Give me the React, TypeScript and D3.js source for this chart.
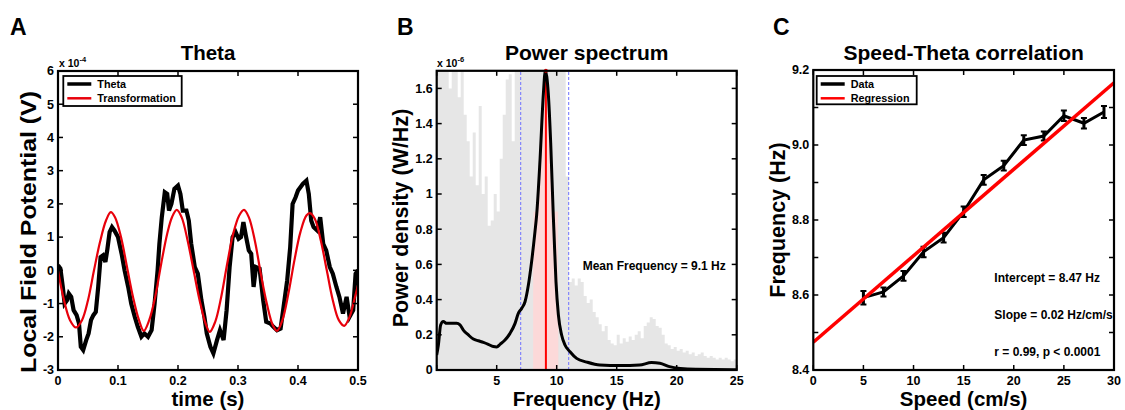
import React from "react";
import * as d3 from "d3";

const FONT = "'Liberation Sans', Arial, Helvetica, sans-serif";

// ---- panel A: theta trace + sinusoidal transformation
const thetaTime = [0, 0.004, 0.008, 0.011, 0.015, 0.018, 0.022, 0.026, 0.031, 0.035, 0.038, 0.042, 0.047, 0.051, 0.055, 0.059, 0.063, 0.067, 0.071, 0.075, 0.079, 0.082, 0.086, 0.09, 0.094, 0.1, 0.106, 0.111, 0.117, 0.122, 0.128, 0.133, 0.139, 0.144, 0.15, 0.156, 0.161, 0.166, 0.169, 0.173, 0.178, 0.182, 0.185, 0.189, 0.194, 0.2, 0.204, 0.208, 0.214, 0.218, 0.222, 0.228, 0.233, 0.239, 0.244, 0.248, 0.254, 0.259, 0.265, 0.27, 0.276, 0.281, 0.286, 0.291, 0.296, 0.301, 0.305, 0.309, 0.313, 0.318, 0.322, 0.326, 0.33, 0.336, 0.342, 0.347, 0.354, 0.359, 0.365, 0.371, 0.376, 0.382, 0.387, 0.391, 0.396, 0.4, 0.404, 0.408, 0.414, 0.418, 0.422, 0.426, 0.432, 0.437, 0.442, 0.447, 0.453, 0.458, 0.464, 0.469, 0.475, 0.481, 0.486, 0.492, 0.496, 0.5];
const thetaLfp = [0.15, 0.05, -0.5, -1.0, -0.9, -0.7, -0.8, -1.2, -1.35, -1.6, -2.3, -2.4, -2.1, -1.9, -1.5, -1.35, -1.25, -0.5, 0.4, 0.45, 0.25, 0.6, 1.15, 1.3, 1.2, 1.0, 0.5, 0.0, -0.5, -1.0, -1.4, -1.7, -2.0, -1.9, -2.0, -1.8, -1.0, 0.0, 0.8, 1.6, 2.35, 2.3, 1.8, 2.0, 2.45, 2.55, 2.3, 1.8, 1.8, 1.5, 0.8, 0.1, -0.1, -0.9, -1.4, -1.9, -2.3, -2.5, -2.1, -1.8, -2.1, -1.2, 0.1, 1.0, 1.15, 0.95, 1.0, 1.45, 1.05, 0.6, 0.5, -0.5, 0.1, 0.05, -0.9, -1.55, -1.6, -1.7, -1.8, -1.75, -1.1, -0.3, 0.7, 2.0, 2.2, 2.4, 2.5, 2.6, 2.7, 2.3, 1.5, 1.3, 1.2, 1.6, 0.8, 0.6, 0.1, -0.1, -0.5, -0.8, -1.3, -0.8, -1.4, -1.2, -0.1, 0.0];
const transTime = [0, 0.01, 0.02, 0.03, 0.04, 0.05, 0.06, 0.07, 0.08, 0.088, 0.095, 0.105, 0.115, 0.125, 0.135, 0.143, 0.152, 0.162, 0.172, 0.182, 0.19, 0.198, 0.206, 0.216, 0.226, 0.236, 0.246, 0.253, 0.262, 0.272, 0.282, 0.292, 0.302, 0.31, 0.318, 0.328, 0.338, 0.348, 0.358, 0.365, 0.374, 0.384, 0.394, 0.404, 0.414, 0.42, 0.428, 0.438, 0.448, 0.458, 0.468, 0.477, 0.486, 0.495, 0.5];
const transLfp = [0.0, -0.9, -1.5, -1.72, -1.5, -0.9, 0.0, 0.85, 1.5, 1.75, 1.6, 1.0, 0.1, -0.8, -1.5, -1.82, -1.5, -0.8, 0.2, 1.1, 1.6, 1.82, 1.6, 0.9, 0.0, -0.9, -1.6, -1.85, -1.55, -0.8, 0.2, 1.1, 1.65, 1.82, 1.6, 0.9, -0.1, -1.0, -1.65, -1.82, -1.5, -0.7, 0.3, 1.15, 1.65, 1.72, 1.55, 0.9, 0.0, -0.9, -1.5, -1.67, -1.4, -0.8, -0.45];
const aXTicks = [0, 0.1, 0.2, 0.3, 0.4, 0.5];
const aYTicks = [-3, -2, -1, 0, 1, 2, 3, 4, 5, 6];

// ---- panel B: power spectrum (x 1e-6 W/Hz)
const binStart = d3.range(0, 25, 0.25);
const binPower = [
  2.0, 2.0, 2.0, 1.9, 1.6, 1.8, 1.75, 1.55, 1.7, 1.45, 1.3, 1.1,
  1.35, 1.05, 1.5, 1.0, 1.1, 0.82, 0.85, 1.0, 0.9, 1.2, 1.45, 1.65,
  1.68, 1.3, 1.8, 1.75, 2.0, 2.0, 2.0, 2.0, 2.0, 2.0, 2.0, 2.0,
  2.0, 2.0, 2.0, 2.0, 2.0, 1.9, 1.75, 1.1, 0.5, 0.52, 0.48, 0.52,
  0.5, 0.42, 0.38, 0.4, 0.33, 0.3, 0.26, 0.22, 0.25, 0.17, 0.15, 0.14,
  0.2, 0.15, 0.18, 0.16, 0.19, 0.17, 0.2, 0.22, 0.18, 0.25, 0.27, 0.3,
  0.29, 0.25, 0.24, 0.2, 0.15, 0.14, 0.12, 0.13, 0.11, 0.12, 0.1, 0.11,
  0.09, 0.1, 0.08, 0.09, 0.1, 0.08, 0.07, 0.08, 0.07, 0.06, 0.07, 0.06,
  0.07, 0.06, 0.05, 0.06,
];
const specFreq = [0, 0.14, 0.33, 0.55, 0.83, 1.11, 1.66, 1.94, 2.22, 2.64, 3.05, 3.47, 3.89, 4.3, 4.72, 5.0, 5.28, 5.69, 6.11, 6.53, 6.8, 7.08, 7.36, 7.64, 7.91, 8.19, 8.33, 8.61, 8.89, 9.05, 9.3, 9.5, 9.72, 9.77, 9.94, 10.14, 10.41, 10.69, 11.11, 11.66, 12.5, 13.6, 15.3, 16.9, 17.9, 18.6, 19.4, 20.3, 21.6, 25];
const specPower = [0.085, 0.142, 0.256, 0.275, 0.265, 0.265, 0.265, 0.256, 0.227, 0.199, 0.176, 0.166, 0.157, 0.146, 0.133, 0.131, 0.146, 0.17, 0.208, 0.265, 0.322, 0.35, 0.388, 0.483, 0.616, 0.786, 0.881, 1.193, 1.57, 1.7, 1.57, 1.29, 0.87, 0.786, 0.502, 0.313, 0.199, 0.142, 0.104, 0.066, 0.045, 0.028, 0.025, 0.028, 0.042, 0.038, 0.019, 0.009, 0.004, 0.002];
const thetaBand = [7, 11];
const peakBand = [8.05, 10.13];
const peakBandLevel = 0.9;
const meanFreq = 9.1;
const bXTicks = [0, 5, 10, 15, 20, 25];
const bXLabels = ["", "5", "10", "15", "20", "25"];
const bYTicks = [0, 0.2, 0.4, 0.6, 0.8, 1.0, 1.2, 1.4, 1.6];
const bYLabels = ["0", "0.2", "0.4", "0.6", "0.8", "1", "1.2", "1.4", "1.6"];

// ---- panel C: speed vs theta frequency
const speed = [5, 7, 9, 11, 13, 15, 17, 19, 21, 23, 25, 27, 29];
const thetaFreq = [8.593, 8.608, 8.651, 8.715, 8.753, 8.822, 8.907, 8.945, 9.013, 9.024, 9.078, 9.058, 9.088];
const freqErr = [0.018, 0.012, 0.013, 0.014, 0.013, 0.014, 0.013, 0.013, 0.013, 0.012, 0.014, 0.014, 0.016];
const regSpeed = [0, 30];
const regFreq = [8.474, 9.166];
const cXTicks = [0, 5, 10, 15, 20, 25, 30];
const cYTicks = [8.4, 8.5, 8.6, 8.7, 8.8, 8.9, 9.0, 9.1, 9.2];
const cYLabels = ["8.4", "", "8.6", "", "8.8", "", "9.0", "", "9.2"];

type Lin = d3.ScaleLinear<number, number>;

function Frame({ x, y, xTicks, xLabels, yTicks, yLabels }: {
  x: Lin; y: Lin; xTicks: number[]; xLabels: string[]; yTicks: number[]; yLabels: string[];
}) {
  const [x0, x1] = x.range();
  const [y0, y1] = y.range();
  const tl = 5;
  return (
    <g>
      {xTicks.map((t, i) => (
        <g key={"x" + i}>
          <line x1={x(t)} x2={x(t)} y1={y0} y2={y0 - tl} stroke="#000" strokeWidth={1.5} />
          <line x1={x(t)} x2={x(t)} y1={y1} y2={y1 + tl} stroke="#000" strokeWidth={1.5} />
          <text x={x(t)} y={y0 + 14.5} textAnchor="middle" fontSize={12.5} fontWeight="bold">{xLabels[i]}</text>
        </g>
      ))}
      {yTicks.map((t, i) => (
        <g key={"y" + i}>
          <line x1={x0} x2={x0 + tl} y1={y(t)} y2={y(t)} stroke="#000" strokeWidth={1.5} />
          <line x1={x1} x2={x1 - tl} y1={y(t)} y2={y(t)} stroke="#000" strokeWidth={1.5} />
          <text x={x0 - 4} y={y(t)} dy="0.35em" textAnchor="end" fontSize={12.5} fontWeight="bold">{yLabels[i]}</text>
        </g>
      ))}
      <rect x={x0} y={y1} width={x1 - x0} height={y0 - y1} fill="none" stroke="#000" strokeWidth={2.2} />
    </g>
  );
}

function Legend({ x, y, w, h, items }: { x: number; y: number; w: number; h: number; items: [string, string][] }) {
  return (
    <g>
      <rect x={x} y={y} width={w} height={h} fill="#fff" stroke="#000" strokeWidth={1.8} />
      {items.map(([label, color], i) => (
        <g key={label}>
          <line x1={x + 4} x2={x + 28} y1={y + 8 + i * 14.3} y2={y + 8 + i * 14.3} stroke={color} strokeWidth={color === "#000" ? 3.5 : 2.5} />
          <text x={x + 34} y={y + 8 + i * 14.3} dy="0.35em" fontSize={10.8} fontWeight="bold">{label}</text>
        </g>
      ))}
    </g>
  );
}

function Exponent({ x, y, exp }: { x: number; y: number; exp: string }) {
  return (
    <text x={x} y={y} fontSize={10.5} fontWeight="bold">
      x 10<tspan dy={-5} fontSize={7.5}>{exp}</tspan>
    </text>
  );
}

export default function App() {
  // panel A scales
  const xA = d3.scaleLinear().domain([0, 0.5]).range([58, 358]);
  const yA = d3.scaleLinear().domain([-3, 6]).range([370, 71]);
  // panel B scales
  const xB = d3.scaleLinear().domain([0, 25]).range([436.7, 736.7]);
  const yB = d3.scaleLinear().domain([0, 1.7]).range([370, 70.8]);
  // panel C scales
  const xC = d3.scaleLinear().domain([0, 30]).range([813.3, 1114]);
  const yC = d3.scaleLinear().domain([8.4, 9.2]).range([370, 70]);

  const lineA = d3.line<[number, number]>().x((d) => xA(d[0])).y((d) => yA(d[1]));
  const thetaPath = lineA(thetaTime.map((t, i) => [t, thetaLfp[i]]));
  const transPath = lineA.curve(d3.curveCatmullRom)(transTime.map((t, i) => [t, transLfp[i]]));

  const binArea = d3.area<[number, number]>()
    .x((d) => xB(d[0])).y0(yB(0)).y1((d) => yB(d[1])).curve(d3.curveStepAfter);
  const bins: [number, number][] = binStart.map((f, i) => [f, binPower[i]]);
  bins.push([25, binPower[binPower.length - 1]]);
  const spec: [number, number][] = specFreq.map((f, i) => [f, specPower[i]]);
  const specLine = d3.line<[number, number]>().x((d) => xB(d[0])).y((d) => yB(d[1])).curve(d3.curveMonotoneX);
  const specArea = d3.area<[number, number]>().x((d) => xB(d[0])).y0(yB(0)).y1((d) => yB(d[1])).curve(d3.curveMonotoneX);

  const lineC = d3.line<[number, number]>().x((d) => xC(d[0])).y((d) => yC(d[1]));

  const cx = (s: Lin) => (s.range()[0] + s.range()[1]) / 2;

  return (
    <svg width={1125} height={410} fontFamily={FONT} style={{ position: "absolute", left: 0, top: 0, background: "#fff" }}>
      <defs>
        <clipPath id="clipA"><rect x={58} y={71} width={300} height={299} /></clipPath>
        <clipPath id="clipB"><rect x={436.7} y={70.8} width={300} height={299.2} /></clipPath>
        <clipPath id="clipBand"><rect x={xB(peakBand[0])} y={70} width={xB(peakBand[1]) - xB(peakBand[0])} height={300} /></clipPath>
        <clipPath id="clipC"><rect x={813.3} y={70} width={300.7} height={300} /></clipPath>
      </defs>

      {/* panel letters */}
      <text x={10} y={35} fontSize={23} fontWeight="bold">A</text>
      <text x={397} y={35} fontSize={23} fontWeight="bold">B</text>
      <text x={773} y={35} fontSize={23} fontWeight="bold">C</text>

      {/* ---------- A ---------- */}
      <text x={cx(xA)} y={60} textAnchor="middle" fontSize={20.5} fontWeight="bold">Theta</text>
      <g clipPath="url(#clipA)">
        <path d={thetaPath || ""} fill="none" stroke="#000" strokeWidth={4.2} strokeLinejoin="miter" />
        <path d={transPath || ""} fill="none" stroke="#e8000b" strokeWidth={2.2} />
      </g>
      <Frame x={xA} y={yA} xTicks={aXTicks} xLabels={aXTicks.map((t) => String(t))} yTicks={aYTicks} yLabels={aYTicks.map((t) => String(t))} />
      <Exponent x={59} y={66.5} exp="-4" />
      <Legend x={63.3} y={76} w={118.4} h={30} items={[["Theta", "#000"], ["Transformation", "#e8000b"]]} />
      <text x={cx(xA)} y={406} textAnchor="middle" fontSize={20.5} fontWeight="bold">time (s)</text>
      <text transform="translate(36,232) rotate(-90)" textAnchor="middle" fontSize={21.5} fontWeight="bold" textLength={282} lengthAdjust="spacingAndGlyphs">Local Field Potential (V)</text>

      {/* ---------- B ---------- */}
      <text x={cx(xB)} y={60} textAnchor="middle" fontSize={21} fontWeight="bold">Power spectrum</text>
      <g clipPath="url(#clipB)">
        <path d={binArea(bins) || ""} fill="#e6e6e6" />
        <g clipPath="url(#clipBand)">
          <rect x={xB(peakBand[0])} y={yB(peakBandLevel)} width={xB(peakBand[1]) - xB(peakBand[0])} height={yB(0) - yB(peakBandLevel)} fill="#fcd9d9" />
          <path d={specArea(spec) || ""} fill="#fcd9d9" />
        </g>
        {thetaBand.map((f) => (
          <line key={f} x1={xB(f)} x2={xB(f)} y1={yB(0)} y2={yB(1.7)} stroke="#6f72ff" strokeWidth={1} strokeDasharray="3,2" />
        ))}
        <line x1={xB(meanFreq)} x2={xB(meanFreq)} y1={yB(0)} y2={yB(1.7)} stroke="#ff0000" strokeWidth={2} />
        <path d={specLine(spec) || ""} fill="none" stroke="#000" strokeWidth={3} />
      </g>
      <circle cx={xB(meanFreq)} cy={yB(1.7)} r={2} fill="#ff0000" />
      <Frame x={xB} y={yB} xTicks={bXTicks} xLabels={bXLabels} yTicks={bYTicks} yLabels={bYLabels} />
      <Exponent x={437} y={66.5} exp="-6" />
      <text x={582.7} y={270} fontSize={12} fontWeight="bold">Mean Frequency = 9.1 Hz</text>
      <text x={cx(xB)} y={406} textAnchor="middle" fontSize={20.5} fontWeight="bold">Frequency (Hz)</text>
      <text transform="translate(408,218) rotate(-90)" textAnchor="middle" fontSize={21.5} fontWeight="bold">Power density (W/Hz)</text>

      {/* ---------- C ---------- */}
      <text x={cx(xC)} y={60} textAnchor="middle" fontSize={21} fontWeight="bold">Speed-Theta correlation</text>
      <g clipPath="url(#clipC)">
        <path d={lineC(speed.map((s, i) => [s, thetaFreq[i]])) || ""} fill="none" stroke="#000" strokeWidth={3} />
        {speed.map((s, i) => (
          <g key={s}>
            <line x1={xC(s)} x2={xC(s)} y1={yC(thetaFreq[i] - freqErr[i])} y2={yC(thetaFreq[i] + freqErr[i])} stroke="#000" strokeWidth={3} />
            <line x1={xC(s) - 3} x2={xC(s) + 3} y1={yC(thetaFreq[i] - freqErr[i])} y2={yC(thetaFreq[i] - freqErr[i])} stroke="#000" strokeWidth={2} />
            <line x1={xC(s) - 3} x2={xC(s) + 3} y1={yC(thetaFreq[i] + freqErr[i])} y2={yC(thetaFreq[i] + freqErr[i])} stroke="#000" strokeWidth={2} />
          </g>
        ))}
        <path d={lineC(regSpeed.map((s, i) => [s, regFreq[i]])) || ""} fill="none" stroke="#ff0000" strokeWidth={3.5} />
      </g>
      <Frame x={xC} y={yC} xTicks={cXTicks} xLabels={cXTicks.map((t) => String(t))} yTicks={cYTicks} yLabels={cYLabels} />
      <Legend x={816.7} y={76} w={100} h={28.3} items={[["Data", "#000"], ["Regression", "#ff0000"]]} />
      <text x={994.3} y={282} fontSize={12} fontWeight="bold">Intercept = 8.47 Hz</text>
      <text x={994.3} y={318.5} fontSize={12} fontWeight="bold">Slope = 0.02 Hz/cm/s</text>
      <text x={994.3} y={355.5} fontSize={12} fontWeight="bold">r = 0.99, p &lt; 0.0001</text>
      <text x={cx(xC)} y={406} textAnchor="middle" fontSize={20.5} fontWeight="bold">Speed (cm/s)</text>
      <text transform="translate(785,220) rotate(-90)" textAnchor="middle" fontSize={21.5} fontWeight="bold">Frequency (Hz)</text>
    </svg>
  );
}
